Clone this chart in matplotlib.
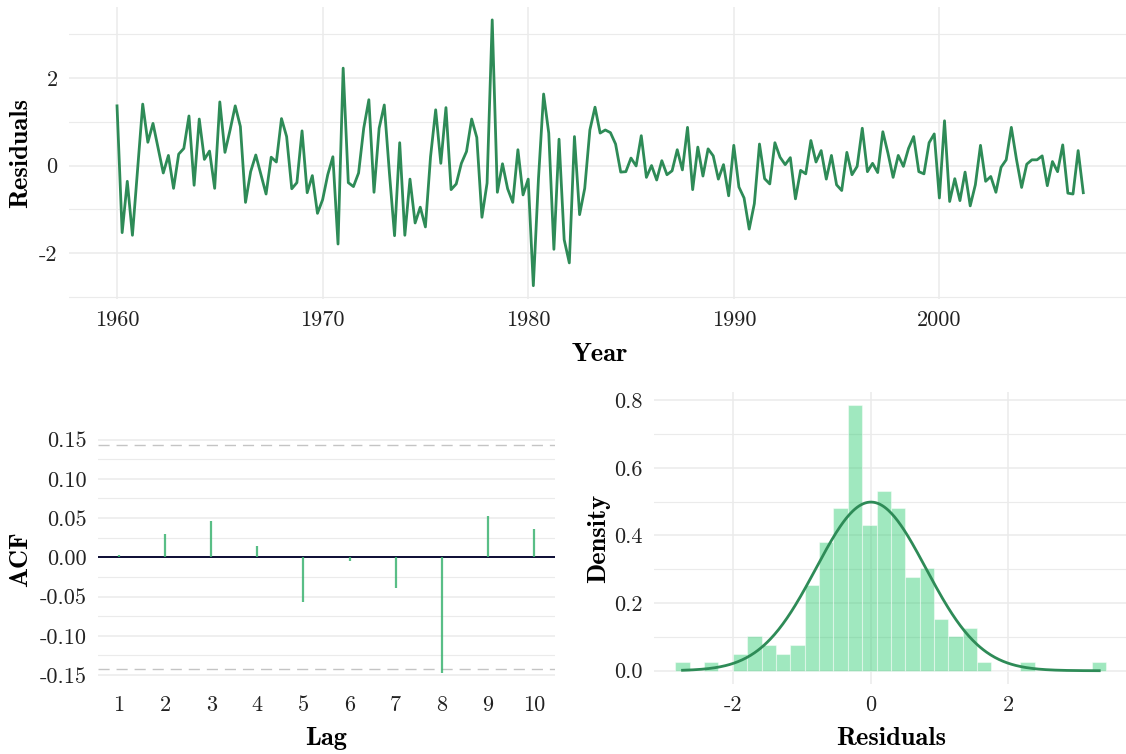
import numpy as np
import matplotlib
matplotlib.use("Agg")
import matplotlib.pyplot as plt

plt.rcParams["font.family"] = "cmr10"
plt.rcParams["axes.unicode_minus"] = False

# quarterly model residuals, starting 1960 Q1
YEAR_START = 1960
PER_YEAR = 4
RESIDUALS = [
    1.36, -1.53, -0.36, -1.59, -0.10, 1.40, 0.53, 0.96, 0.40, -0.17,
    0.23, -0.52, 0.26, 0.39, 1.13, -0.45, 1.06, 0.14, 0.33, -0.52,
    1.45, 0.30, 0.81, 1.36, 0.89, -0.84, -0.14, 0.24, -0.21, -0.65,
    0.19, 0.08, 1.07, 0.66, -0.53, -0.39, 0.79, -0.62, -0.23, -1.09,
    -0.78, -0.21, 0.20, -1.79, 2.22, -0.39, -0.48, -0.17, 0.85, 1.50,
    -0.61, 0.85, 1.38, -0.17, -1.60, 0.52, -1.59, -0.31, -1.31, -0.95,
    -1.40, 0.20, 1.27, 0.05, 1.32, -0.55, -0.42, 0.05, 0.32, 1.06,
    0.64, -1.18, -0.40, 3.32, -0.61, 0.04, -0.53, -0.84, 0.36, -0.67,
    -0.31, -2.74, -0.30, 1.63, 0.74, -1.91, 0.60, -1.69, -2.22, 0.66,
    -1.12, -0.52, 0.81, 1.33, 0.74, 0.81, 0.75, 0.49, -0.15, -0.14,
    0.17, -0.01, 0.68, -0.27, 0.00, -0.33, 0.11, -0.21, -0.12, 0.36,
    -0.10, 0.87, -0.55, 0.42, -0.24, 0.38, 0.22, -0.31, 0.02, -0.69,
    0.46, -0.49, -0.74, -1.45, -0.87, 0.49, -0.30, -0.42, 0.52, 0.19,
    0.02, 0.18, -0.76, -0.11, -0.19, 0.57, 0.08, 0.34, -0.31, 0.23,
    -0.44, -0.57, 0.30, -0.21, -0.02, 0.85, -0.14, 0.05, -0.16, 0.77,
    0.28, -0.27, 0.23, -0.02, 0.39, 0.66, -0.14, -0.19, 0.52, 0.72,
    -0.74, 1.02, -0.82, -0.30, -0.80, -0.15, -0.92, -0.44, 0.46, -0.36,
    -0.25, -0.61, -0.04, 0.13, 0.87, 0.14, -0.50, 0.03, 0.13, 0.13,
    0.22, -0.46, 0.09, -0.14, 0.47, -0.63, -0.65, 0.34, -0.62,
]

ACF_LAGS = list(range(1, 11))
ACF_VALUES = [0.003, 0.030, 0.046, 0.014, -0.057, -0.005, -0.039, -0.147, 0.053, 0.036]

# histogram: 30 equal bins spanning the residual range
HIST_BINS = 30
HIST_COUNTS = [1, 0, 1, 0, 2, 4, 3, 2, 3, 10, 15, 19, 31, 17, 21,
               19, 11, 12, 6, 4, 5, 1, 0, 0, 1, 0, 0, 0, 0, 1]
NORM_MEAN = 0.0
NORM_SD = 0.8

LINE_GREEN = "#2E8B57"
FILL_GREEN = "#2ECC71"
GRID = "#EBEBEB"
BOLD = "cmb10"
TITLE_SIZE = 19

W, H = 1126, 754
fig = plt.figure(figsize=(W / 100, H / 100), dpi=100)


def box(left, top, right, bottom):
    return [left / W, 1 - bottom / H, (right - left) / W, (bottom - top) / H]


def expand(lo, hi, frac=0.05):
    pad = (hi - lo) * frac
    return lo - pad, hi + pad


def style(ax, xgrid=True):
    for s in ax.spines.values():
        s.set_visible(False)
    ax.tick_params(which="both", length=0, labelsize=16, pad=8, colors="#222222")
    ax.grid(which="major", axis="y", color=GRID, lw=1.1)
    if xgrid:
        ax.grid(which="major", axis="x", color=GRID, lw=1.1)
    ax.grid(which="minor", axis="y", color=GRID, lw=0.8)
    ax.set_axisbelow(True)


def place_label(ax, xpx=None, ypx=None):
    # put axis titles at pixel positions of the figure
    l, b, w, h = ax.get_position().bounds
    if xpx is not None:
        ax.yaxis.set_label_coords((xpx / W - l) / w, 0.5)
    if ypx is not None:
        ax.xaxis.set_label_coords(0.5, ((1 - ypx / H) - b) / h)


res = np.array(RESIDUALS)
years = YEAR_START + np.arange(len(res)) / PER_YEAR

# --- residual time series ---
ax1 = fig.add_axes(box(68.7, 6.6, 1131.6, 299))
style(ax1)
ax1.plot(years, res, color=LINE_GREEN, lw=2.0)
ax1.set_xlim(*expand(years.min(), years.max()))
ax1.set_ylim(*expand(res.min(), res.max()))
ax1.set_xticks([1960, 1970, 1980, 1990, 2000], ["1960", "1970", "1980", "1990", "2000"])
ax1.set_yticks([-2, 0, 2], ["-2", "0", "2"])
ax1.set_yticks([-3, -1, 1, 3], minor=True)
ax1.set_xlabel("Year", fontfamily=BOLD, fontsize=TITLE_SIZE)
ax1.set_ylabel("Residuals", fontfamily=BOLD, fontsize=TITLE_SIZE)
place_label(ax1, xpx=32, ypx=343)

# --- ACF ---
acf = np.array(ACF_VALUES)
ci = 1.96 / np.sqrt(len(res))
ax2 = fig.add_axes(box(98.3, 434, 554.7, 684))
style(ax2, xgrid=False)
ax2.axhline(0, color="#0B0B33", lw=1.4, zorder=2)
ax2.vlines(ACF_LAGS, 0, acf, color="#3CB371", lw=1.6, alpha=0.85, zorder=3)
for c in (ci, -ci):
    ax2.axhline(c, color="#C4C4C4", lw=1.0, ls=(0, (8, 5)), zorder=1.5)
ax2.set_xlim(*expand(min(ACF_LAGS), max(ACF_LAGS)))
ax2.set_ylim(*expand(min(acf.min(), -ci), max(acf.max(), ci)))
ax2.set_xticks(ACF_LAGS, [str(k) for k in ACF_LAGS])
yt = [-0.15, -0.10, -0.05, 0.0, 0.05, 0.10, 0.15]
ax2.set_yticks(yt, [f"{v:.2f}" for v in yt])
ax2.set_yticks([-0.125, -0.075, -0.025, 0.025, 0.075, 0.125], minor=True)
ax2.set_xlabel("Lag", fontfamily=BOLD, fontsize=TITLE_SIZE)
ax2.set_ylabel("ACF", fontfamily=BOLD, fontsize=TITLE_SIZE)
place_label(ax2, xpx=32, ypx=727)

# --- histogram with normal density ---
counts = np.array(HIST_COUNTS)
binw = (res.max() - res.min()) / (HIST_BINS - 1)
centers = res.min() + np.arange(HIST_BINS) * binw
dens = counts / (counts.sum() * binw)
ax3 = fig.add_axes(box(653.8, 392, 1128, 684))
style(ax3)
ax3.bar(centers, dens, width=binw, color=FILL_GREEN, alpha=0.45,
        edgecolor="white", lw=0.8, zorder=2)
xs = np.linspace(res.min(), res.max(), 400)
ys = np.exp(-0.5 * ((xs - NORM_MEAN) / NORM_SD) ** 2) / (NORM_SD * np.sqrt(2 * np.pi))
ax3.plot(xs, ys, color=LINE_GREEN, lw=2.0, zorder=3)
ax3.set_xlim(*expand(centers[0] - binw / 2, centers[-1] + binw / 2))
ax3.set_ylim(*expand(0, dens.max()))
ax3.set_xticks([-2, 0, 2], ["-2", "0", "2"])
ax3.set_yticks([0, 0.2, 0.4, 0.6, 0.8], ["0.0", "0.2", "0.4", "0.6", "0.8"])
ax3.set_yticks([0.1, 0.3, 0.5, 0.7], minor=True)
ax3.set_xlabel("Residuals", fontfamily=BOLD, fontsize=TITLE_SIZE)
ax3.set_ylabel("Density", fontfamily=BOLD, fontsize=TITLE_SIZE)
place_label(ax3, xpx=610, ypx=727)

fig.savefig("out.png", dpi=100)
